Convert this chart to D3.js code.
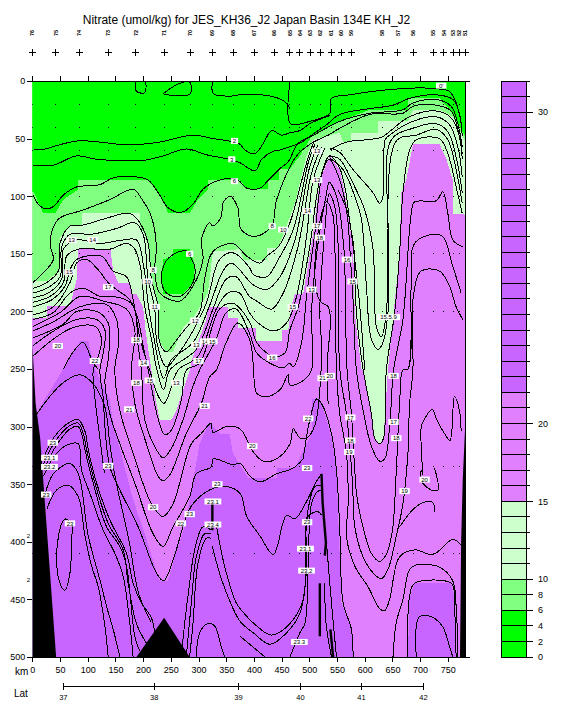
<!DOCTYPE html>
<html><head><meta charset="utf-8">
<script src="https://d3js.org/d3.v7.min.js"></script>
<style>html,body{margin:0;padding:0;background:#fff}svg{display:block}text{font-family:"Liberation Sans",Arial,sans-serif;fill:#000}</style>
</head><body><div id="chart"></div>
<script>
const titleText = "Nitrate (umol/kg) for JES_KH36_J2 Japan Basin 134E KH_J2";
const kmTicks = [0,50,100,150,200,250,300,350,400,450,500,550,600,650,700,750];
const depthTicks = [0,50,100,150,200,250,300,350,400,450,500];
const latKm = [56,220,372,484,594,706];
const latLabels = ["37","38","39","40","41","42"];
const stationKm = [0,42,85,137,187,238,285,325,363,401,437,465,483,502,520,540,558,576,632,660,688,724,743,760,771,781];
const stationNames = ["76","75","74","73","72","71","70","69","68","67","66","65","64","63","62","61","60","59","58","57","56","55","54","53","52","51"];
const sampleDepths = [20,40,60,100,150,200,335,410];
const levels = [0,2,4,6,8,10,11,12,13,14,15,16,17,18,19,20,20.5,21,21.5,22,22.5,23,23.5,24,24.5,25,25.5,26,26.5,27,27.5,28,28.5,29,29.5,30,30.5,31];
const labelledLevels = [0,2,4,6,8,10,15,20,30];

const fillPink = [[0,0],[781,0],[781,500],[765,500],[762,448],[756,436],[690,436],[681,448],[678,500],[579,500],[576,476],[558,453],[549,338],[540,309],[528,289],[519,276],[504,276],[504,306],[474,336],[441,336],[441,345],[390,345],[362,323],[356,306],[338,306],[320,296],[302,315],[275,387],[257,413],[245,434],[230,434],[221,421],[203,393],[188,372],[179,358],[146,297],[140,277],[113,250],[101,226],[86,226],[62,245],[56,250],[38,264],[14,283],[6,290],[0,290]];
const fillLight = [[0,0],[781,0],[781,116],[759,115],[759,86],[747,67],[735,55],[687,55],[675,86],[666,97],[663,149],[642,250],[634,310],[627,315],[618,310],[612,289],[597,251],[594,250],[582,201],[579,143],[573,126],[564,97],[555,77],[537,65],[519,86],[507,132],[489,185],[474,185],[468,195],[462,216],[450,216],[450,226],[404,226],[404,214],[371,214],[371,206],[353,206],[353,196],[317,196],[314,207],[290,239],[284,251],[260,286],[251,294],[230,294],[224,280],[215,251],[205,219],[200,196],[188,185],[179,185],[176,175],[155,175],[146,165],[141,146],[83,146],[80,172],[68,195],[26,195],[26,206],[0,206]];
const fillMid = [[0,0],[781,0],[781,52],[759,31],[735,25],[687,25],[678,35],[624,35],[624,45],[576,45],[576,53],[561,53],[555,45],[507,51],[495,65],[474,106],[444,145],[423,145],[423,155],[381,155],[375,146],[326,148],[317,184],[290,206],[272,214],[254,235],[242,235],[230,227],[227,196],[215,172],[209,138],[194,126],[194,115],[89,115],[89,125],[68,126],[50,136],[50,164],[26,174],[0,174]];
const fillGreen = [[0,0],[781,0],[781,48],[759,28],[735,15],[678,15],[678,25],[609,25],[555,35],[504,48],[483,65],[465,76],[446,76],[446,86],[426,86],[426,94],[387,94],[375,86],[317,86],[317,94],[299,103],[284,115],[245,115],[239,106],[224,94],[209,86],[83,86],[83,94],[56,103],[41,115],[20,115],[2,96],[0,96]];
const fillEye = [[254,146],[284,146],[294,161],[290,175],[272,185],[236,185],[233,172],[236,155],[254,152]];
const seabedLeft = [[0,227],[6,280],[14,309],[25,381],[43,500],[0,500]];
const seabedMiddle = [[188,500],[238,466],[284,500]];
const seabedRight = [[781,303],[777,345],[774,400],[772,500],[781,500]];

const contourLines = [
 [[187,1],[188,9],[203,10],[205,1]],
 [[236,11],[266,2],[284,1],[285,11],[260,13],[236,11]],
 [[325,1],[327,11],[362,13],[375,12],[429,13],[456,18],[465,24]],
 [[465,1],[466,37],[501,35],[537,28],[540,15],[573,12],[615,9],[657,7],[705,6],[735,7],[753,9],[765,19],[774,37],[776,48]],
 [[1,59],[23,59],[44,56],[83,52],[122,53],[158,55],[194,55],[230,53],[290,47],[326,50],[365,53],[375,55],[384,60],[402,63],[417,54],[432,43],[450,47],[465,45],[483,43],[501,37],[537,30]],
 [[1,73],[38,73],[80,65],[116,68],[158,69],[200,69],[236,65],[278,59],[314,64],[356,68],[375,71],[402,78],[414,68],[435,61],[447,60],[465,57],[483,54],[504,47],[531,38],[555,29],[609,24],[651,21],[681,15],[729,12],[759,16],[771,28],[776,48]],
 [[1,99],[11,107],[23,111],[38,109],[56,99],[80,92],[122,90],[146,84],[182,83],[209,86],[230,99],[245,110],[269,114],[290,107],[308,94],[332,87],[368,85],[387,93],[411,93],[426,86],[447,76],[462,70],[480,54],[504,48],[534,40],[555,35],[609,28],[669,25],[687,19],[729,16],[756,22],[768,37],[776,57]],
 [[1,175],[23,165],[38,155],[32,141],[47,120],[92,112],[140,103],[182,94],[197,102],[215,118],[224,144],[221,164],[230,184],[266,191],[290,178],[308,155],[305,138],[320,123],[326,126],[341,118],[344,106],[357,100],[371,110],[377,129],[402,135],[432,126],[441,103],[477,65],[504,54],[534,47],[555,41],[609,29],[669,28],[687,22],[729,21],[756,26],[768,42],[776,63]],
 [[278,147],[293,161],[290,175],[266,187],[242,184],[233,171],[242,156],[260,149],[278,147]],
 [[1,180],[26,175],[47,165],[50,141],[68,126],[92,125],[128,120],[176,115],[194,123],[209,141],[215,172],[227,196],[230,227],[242,235],[257,227],[278,214],[302,201],[311,172],[326,148],[362,141],[375,146],[387,152],[411,158],[423,152],[444,144],[465,123],[495,71],[507,54]],
 [[1,184],[26,180],[50,170],[53,144],[68,133],[107,133],[152,128],[185,123],[200,133],[209,172],[221,198],[225,227],[242,248],[260,239],[284,222],[314,193],[338,155],[362,149],[392,162],[399,168],[423,170],[444,155],[471,129],[498,71],[510,55]],
 [[1,188],[29,184],[53,172],[56,146],[80,138],[122,141],[164,138],[188,138],[201,161],[209,193],[218,219],[237,258],[251,242],[290,227],[320,195],[344,165],[359,158],[392,174],[399,177],[423,181],[447,170],[474,138],[501,74],[516,55]],
 [[1,192],[32,187],[56,175],[62,152],[83,146],[140,146],[170,141],[185,146],[195,161],[203,196],[215,224],[225,251],[237,268],[248,251],[296,233],[326,198],[350,172],[368,170],[392,187],[405,191],[432,198],[453,184],[480,143],[504,80],[522,57]],
 [[1,196],[35,190],[59,178],[68,164],[80,155],[125,152],[146,165],[170,170],[182,190],[195,225],[212,251],[224,270],[237,280],[245,274],[263,251],[299,239],[332,198],[353,184],[374,184],[392,201],[405,209],[435,217],[459,210],[477,187],[495,135],[507,86],[528,58]],
 [[1,203],[38,196],[68,175],[80,158],[98,155],[119,164],[137,175],[152,181],[176,190],[191,207],[200,230],[209,250],[227,293],[239,307],[251,303],[269,277],[278,251],[302,245],[338,198],[362,193],[392,209],[405,227],[435,239],[456,236],[465,216],[480,196],[501,143],[519,86],[537,65],[555,76],[566,97],[574,126],[580,143],[585,201],[597,250],[612,289],[618,310],[627,315],[634,310],[639,251],[654,201],[663,149],[669,97],[681,60],[693,51],[735,50],[750,63],[765,92],[776,115]],
 [[1,207],[38,201],[68,184],[92,180],[122,187],[158,188],[182,195],[191,230],[197,251],[203,294],[224,320],[236,327],[251,319],[272,294],[290,265],[302,251],[332,224],[350,201],[368,198],[392,219],[405,236],[429,245],[453,249],[464,245],[471,248],[486,227],[495,187],[510,132],[525,77],[536,68],[555,86],[568,115],[573,144],[579,190],[585,251],[597,286],[612,317],[627,330],[636,328],[645,300],[652,251],[669,207],[684,115],[690,105],[729,104],[741,96],[750,115],[759,138],[777,144]],
 [[1,213],[50,201],[86,187],[128,191],[170,198],[185,216],[179,250],[185,280],[206,315],[227,343],[236,347],[248,342],[278,306],[305,280],[320,257],[332,251],[350,227],[371,210],[392,224],[399,247],[405,271],[423,274],[447,268],[462,255],[465,264],[489,260],[504,251],[504,200],[516,140],[530,100],[536,88],[549,100],[562,143],[568,250],[576,289],[582,338],[586,361],[600,393],[612,410],[627,417],[639,411],[650,390],[657,338],[663,280],[669,251],[678,250],[684,175],[690,141],[723,133],[741,135],[759,161],[774,184]],
 [[1,217],[38,209],[86,196],[134,194],[152,207],[155,230],[149,250],[158,286],[182,323],[215,367],[236,378],[254,367],[287,315],[305,306],[323,297],[326,305],[350,300],[375,302],[399,322],[417,330],[441,328],[465,315],[471,302],[483,310],[495,310],[510,299],[519,268],[522,230],[519,200],[528,130],[536,98],[546,109],[552,143],[555,250],[567,289],[576,335],[579,361],[582,387],[597,413],[615,427],[630,432],[642,424],[657,395],[669,367],[678,323],[681,280],[687,251],[687,190],[702,165],[735,165],[753,178],[765,196],[777,207]],
 [[1,223],[56,211],[80,200],[116,200],[137,210],[137,242],[131,260],[140,289],[158,315],[185,349],[218,393],[236,404],[254,387],[284,361],[296,341],[323,335],[326,328],[362,333],[375,332],[393,343],[411,348],[441,341],[471,336],[489,328]],
 [[489,328],[501,294],[513,276],[522,280],[540,306],[549,338],[555,390],[561,453],[576,476],[579,500]],
 [[534,280],[532,248],[538,207],[534,196],[519,191],[510,170],[520,120],[531,105],[542,115],[546,143],[549,250],[555,289],[567,323],[570,367],[567,395],[582,421],[606,439],[627,458],[636,460],[645,450],[663,413],[690,407],[723,411],[759,398],[774,403]],
 [[1,230],[32,219],[80,207],[116,207],[131,216],[128,236],[122,251],[128,275],[131,300],[140,335],[158,355],[191,387],[224,427],[237,434],[254,416],[278,378],[290,367],[320,355],[350,352],[375,358],[387,378],[411,395],[435,411],[459,377],[474,380],[495,365],[510,350],[522,341]],
 [[1,239],[38,224],[74,214],[113,213],[125,224],[119,239],[110,251],[113,275],[122,310],[130,340]],
 [[56,250],[77,233],[92,227],[110,245],[119,250]],
 [[8,289],[53,263],[86,255],[110,263],[131,283],[140,315],[150,345],[175,400],[192,445],[215,470]],
 [[20,328],[38,310],[68,296],[83,294],[95,304],[101,320],[116,349],[140,381],[170,410],[182,436],[197,453],[215,466],[221,479]],
 [[20,333],[41,313],[68,299],[83,297],[92,306],[98,320],[113,349],[137,384],[164,407],[173,436],[188,471],[206,488]],
 [[20,338],[44,316],[68,302],[83,300],[89,306],[95,320],[110,349],[134,387],[158,404],[170,421],[185,482],[194,495]],
 [[20,343],[44,323],[68,315],[83,315],[89,338],[104,358],[128,390],[149,410],[164,430],[176,471],[182,500]],
 [[23,359],[38,341],[68,332],[83,341],[101,395],[122,433],[134,456],[146,476],[158,500]],
 [[26,372],[44,355],[65,351],[83,361],[95,395],[107,421],[119,439],[131,473],[137,500]],
 [[59,380],[71,384],[71,398],[68,427],[59,442],[50,436],[44,410],[53,384],[59,380]],
 [[325,404],[344,436],[375,469],[399,479],[429,489],[459,479],[483,462],[495,424],[498,378],[516,374],[522,377]],
 [[332,385],[347,421],[368,453],[375,458],[405,473],[432,481],[465,471],[489,450],[495,381],[510,352],[522,351]],
 [[375,482],[420,500]],
 [[465,500],[483,479],[492,471],[498,424],[504,367],[516,356],[522,356]],
 [[531,401],[540,453],[549,500]],
 [[528,436],[530,470],[540,500]],
 [[323,390],[308,387],[293,407],[284,436],[275,471],[269,500]],
 [[323,393],[311,393],[296,413],[287,453],[278,500]],
 [[323,397],[314,397],[299,419],[290,471],[284,500]],
 [[296,500],[302,479],[317,471],[329,473],[341,491],[347,500]],
 [[552,95],[570,115],[578,140],[590,190],[600,251]],
 [[762,448],[765,500]],[[678,500],[681,447],[690,436],[756,436],[762,448]],
 [[693,500],[693,474],[699,465],[720,465],[741,474],[753,491],[759,500]],
 [[651,500],[657,470],[669,450],[681,424],[693,420],[735,422],[759,434],[765,456],[768,500]],
 [[705,342],[702,300],[705,296],[722,285],[729,293],[744,306],[754,312],[762,274],[771,286],[774,304]],
 [[705,342],[702,338],[702,347],[720,355],[732,355],[726,336]],
 [[663,387],[687,372],[705,366],[723,366],[726,374]],
 [[537,60],[567,53],[603,51],[630,49],[642,45],[681,31],[729,26],[756,32],[771,48],[776,68]],
 [[537,58],[555,62],[579,77],[615,97],[627,106],[633,100],[637,51],[645,47],[687,35],[729,31],[753,38],[768,57],[776,83]],
 [[537,65],[555,68],[579,89],[600,112],[615,146],[621,213],[630,222],[639,201],[642,129],[648,51],[687,41],[729,37],[750,44],[765,66],[776,97]],
 [[537,67],[561,77],[582,100],[594,120],[603,178],[612,224],[624,233],[633,227],[642,201],[657,52],[693,47],[729,42],[750,51],[765,77],[776,106]]
];
const thickLines = [
 [[522,341],[524,366],[530,401],[528,412]],
 [[519,436],[519,482]],
 [[538,476],[543,500]],
 [[325,367],[325,390]]
];
const contourLabels = [
 [738,4,"0'"],[365,52,"2"],[360,68,"3"],[365,87,"6"],[71,138,"13"],[109,138,"14"],[67,166,"15"],[137,179,"17"],[218,164,"8"],[208,174,"10"],[221,196,"11"],[294,208,"12"],[296,229,"13"],[312,226,"14"],[325,226,"15"],[284,150,"6"],[188,225,"18"],[201,245,"14"],[300,243,"17"],[46,230,"20"],[113,243,"22"],
 [514,61,"13"],[514,86,"13"],[497,113,"14"],[433,126,"8"],[453,129,"10"],[514,126,"17"],[519,136,"18"],[568,155,"16"],[578,174,"15"],[504,181,"13"],[470,196,"15"],[643,205,"15.5.9"],[433,240,"16"],
 [188,262,"18"],[212,260,"15"],[260,262,"13"],[175,285,"21"],[311,282,"21"],[37,314,"23"],[31,327,"23.1"],[31,335,"23.2"],[137,334,"23"],[25,359,"23"],[68,384,"23"],[218,370,"20"],[284,376,"23"],[268,384,"22"],[334,350,"23"],[326,365,"23.1"],[326,385,"23.4"],
 [524,258,"21"],[537,256,"20"],[652,256,"18"],[498,293,"22"],[574,292,"17"],[652,296,"17"],[657,310,"18"],[574,312,"18"],[572,322,"19"],[397,317,"20"],[496,336,"23"],[708,346,"20"],[672,356,"19"],[496,383,"23"],[493,406,"23.1"],[495,425,"23.2"],[482,487,"23.3"]
];
const clippedLabels = [[-7,395,"2"],[-7,433,"2"]];

const W=570,H=720;
const svg=d3.select("#chart").append("svg").attr("width",W).attr("height",H).attr("viewBox",`0 0 ${W} ${H}`);
svg.append("rect").attr("width",W).attr("height",H).attr("fill","#fff");
const x=d3.scaleLinear().domain([0,781]).range([32.3,465]);
const y=d3.scaleLinear().domain([0,500]).range([81,657]);
const colour=d3.scaleThreshold().domain([6,10,15,21]).range(["#00ff00","#80ff80","#ccffcc","#e080ff","#c864ff"]);
const defs=svg.append("defs");
defs.append("clipPath").attr("id","plot").append("rect").attr("x",x(0)).attr("y",y(0)).attr("width",x(781)-x(0)).attr("height",y(500)-y(0));
const poly=d3.line().x(d=>x(d[0])).y(d=>y(d[1]));
const smooth=d3.line().x(d=>x(d[0])).y(d=>y(d[1])).curve(d3.curveCatmullRom.alpha(.5));
const plot=svg.append("g").attr("clip-path","url(#plot)");
plot.append("rect").attr("x",x(0)).attr("y",y(0)).attr("width",x(781)-x(0)).attr("height",y(500)-y(0)).attr("fill",colour(25));
[[fillPink,18],[fillLight,12],[fillMid,8],[fillGreen,2],[fillEye,2]].forEach(([p,v])=>{
  plot.append("path").attr("d",poly(p)+"Z").attr("fill",colour(v)).attr("shape-rendering","crispEdges");
});
plot.append("g").selectAll("path").data(contourLines).join("path").attr("d",smooth).attr("fill","none").attr("stroke","#000").attr("stroke-width",1).attr("shape-rendering","crispEdges");
plot.append("g").selectAll("path").data(thickLines).join("path").attr("d",poly).attr("fill","none").attr("stroke","#000").attr("stroke-width",2.4);
[seabedLeft,seabedMiddle,seabedRight].forEach(p=>plot.append("path").attr("d",poly(p)+"Z").attr("fill","#000"));
const dots=[];stationKm.forEach(k=>sampleDepths.forEach(d=>dots.push([k,d])));
plot.append("g").selectAll("rect").data(dots).join("rect").attr("x",d=>x(d[0])-.5).attr("y",d=>y(d[1])-.5).attr("width",1).attr("height",1).attr("fill","#000").attr("shape-rendering","crispEdges");
const lab=svg.append("g");
contourLabels.forEach(([k,d,t])=>{
  const w=t.length*3.2+4;
  lab.append("rect").attr("x",x(k)-w/2).attr("y",y(d)-3).attr("width",w).attr("height",6).attr("fill","#fff");
  lab.append("text").attr("x",x(k)).attr("y",y(d)+2.2).attr("text-anchor","middle").attr("font-size",6).text(t);
});
clippedLabels.forEach(([k,d,t])=>lab.append("text").attr("x",x(k)).attr("y",y(d)+2.2).attr("text-anchor","middle").attr("font-size",6).text(t));
const axB=svg.append("g").attr("transform",`translate(0,${y(500)})`).call(d3.axisBottom(x).tickValues(kmTicks).tickSize(5).tickPadding(5).tickFormat(d3.format("d")));
const axT=svg.append("g").attr("transform",`translate(0,${y(0)})`).call(d3.axisTop(x).tickValues(kmTicks).tickSize(5).tickFormat(""));
const axL=svg.append("g").attr("transform",`translate(${x(0)},0)`).call(d3.axisLeft(y).tickValues(depthTicks).tickSize(5).tickPadding(2).tickFormat(d3.format("d")));
[axB,axT,axL].forEach(a=>{a.attr("font-family",null).attr("font-size",null);a.selectAll("text").attr("font-size",9);a.selectAll("line").attr("stroke","#000").attr("shape-rendering","crispEdges");a.select(".domain").remove()});
const frame=svg.append("g").attr("stroke","#000").attr("shape-rendering","crispEdges");
frame.append("line").attr("x1",x(-9)).attr("x2",x(790)).attr("y1",y(0)).attr("y2",y(0));
frame.append("line").attr("x1",x(-9)).attr("x2",x(790)).attr("y1",y(500)).attr("y2",y(500));
frame.append("line").attr("x1",x(781)).attr("x2",x(781)).attr("y1",y(0)).attr("y2",y(500));
svg.append("text").attr("x",15).attr("y",675).attr("font-size",10).text("km");
svg.append("text").attr("x",246.5).attr("y",24).attr("text-anchor","middle").attr("font-size",12).text(titleText);
const st=svg.append("g");
stationKm.forEach((k,i)=>{
  st.append("line").attr("x1",x(k)-3.5).attr("x2",x(k)+3.5).attr("y1",52.5).attr("y2",52.5).attr("stroke","#000").attr("shape-rendering","crispEdges");
  st.append("line").attr("x1",x(k)).attr("x2",x(k)).attr("y1",49).attr("y2",56).attr("stroke","#000").attr("shape-rendering","crispEdges");
  st.append("text").attr("transform",`translate(${x(k)+2},33) rotate(-90)`).attr("text-anchor","middle").attr("font-size",5.5).attr("font-weight","bold").text(stationNames[i]);
});
const la=svg.append("g");
la.append("line").attr("x1",x(latKm[0])).attr("x2",x(latKm[5])).attr("y1",686).attr("y2",686).attr("stroke","#000").attr("shape-rendering","crispEdges");
latKm.forEach((k,i)=>{
  la.append("line").attr("x1",x(k)).attr("x2",x(k)).attr("y1",683).attr("y2",690).attr("stroke","#000").attr("shape-rendering","crispEdges");
  la.append("text").attr("x",x(k)).attr("y",700).attr("text-anchor","middle").attr("font-size",7.5).text(latLabels[i]);
});
svg.append("text").attr("x",14).attr("y",697).attr("font-size",10).text("Lat");
const cy=d3.scalePoint().domain(levels).range([657,81]);
const cb=svg.append("g").attr("shape-rendering","crispEdges");
levels.slice(0,-1).forEach((v,i)=>{
  cb.append("rect").attr("x",501).attr("width",25).attr("y",cy(levels[i+1])).attr("height",cy(v)-cy(levels[i+1])).attr("fill",colour(v)).attr("stroke","#000");
});
levels.forEach(v=>{
  const on=labelledLevels.includes(v);
  cb.append("line").attr("x1",526).attr("x2",on?533:530).attr("y1",cy(v)).attr("y2",cy(v)).attr("stroke","#000");
  if(on) svg.append("text").attr("x",538).attr("y",cy(v)+3.2).attr("font-size",9).text(v);
});
</script></body></html>
